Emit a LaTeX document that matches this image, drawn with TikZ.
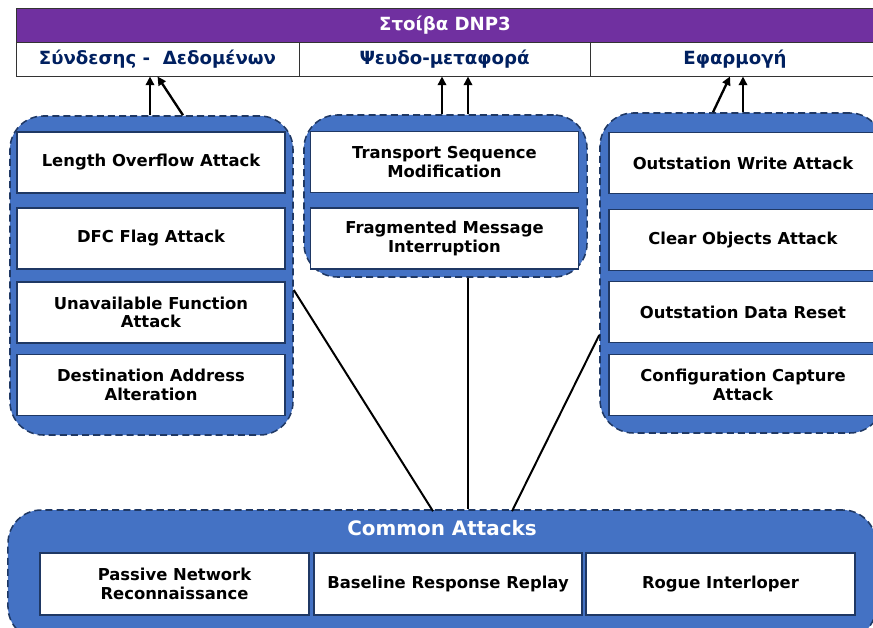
\documentclass[tikz,border=0pt]{standalone}
\usepackage{fontspec}
\setmainfont{DejaVu Sans}
\usepackage{xcolor}
\usetikzlibrary{arrows.meta,calc,positioning}
\definecolor{StackPurple}{HTML}{7030A0}
\definecolor{GroupBlue}{HTML}{4472C4}
\definecolor{EdgeNavy}{HTML}{1F3864}
\definecolor{LayerInk}{HTML}{002060}

\begin{document}
\begin{tikzpicture}[x=0.03cm,y=-0.03cm,every node/.style={font=\bfseries\fontsize{14}{16}\selectfont,align=center,inner sep=0pt},
group/.style={draw=EdgeNavy,fill=GroupBlue,dash pattern=on 6pt off 3.5pt,line width=1.3pt,rounded corners=1cm},
attack/.style={draw=EdgeNavy,fill=white,line width=1.5pt,minimum width=8.04cm,minimum height=1.83cm},
layer/.style={draw=black!80,fill=white,line width=0.8pt,minimum height=1.02cm,text=LayerInk,font=\bfseries\fontsize{15.5}{17}\selectfont},
uparrow/.style={-{Triangle[length=2.6mm,width=2.5mm]},line width=2pt},
link/.style={line width=1.7pt}]
\useasboundingbox (0,0) rectangle (873,628);

\node[fill=StackPurple,draw=black!80,line width=0.8pt,minimum width=25.92cm,minimum height=1.02cm] (stack) at (448,25) {};
\node[text=white,font=\bfseries\fontsize{15.5}{17}\selectfont] (stitle) at (445,25) {Στοίβα DNP3};
\node[layer,minimum width=8.49cm] (lay1) at (157.5,59) {Σύνδεσης -\ \ Δεδομένων};
\node[layer,minimum width=8.73cm] (lay2) at (444.5,59) {Ψευδο-μεταφορά};
\node[layer,minimum width=8.70cm] (lay3) at (735,59) {Εφαρμογή};

\node[group,minimum width=8.49cm,minimum height=9.57cm] (lgrp) at (151.5,275.5) {};
\node[group,minimum width=8.49cm,minimum height=4.86cm] (mgrp) at (445.5,196) {};
\node[group,minimum width=8.49cm,minimum height=9.60cm] (rgrp) at (741.5,273) {};
\node[group,minimum width=26.04cm,minimum height=3.90cm] (cgrp) at (442,575) {};
\node[text=white,font=\bfseries\fontsize{17}{19}\selectfont] (ctitle) at (442,528) {Common Attacks};

\node[attack] (lof) at (151,162.5) {Length Overflow Attack};
\node[attack] (dfc) at (151,238.5) {DFC Flag Attack};
\node[attack] (unf) at (151,312.5) {Unavailable Function\\Attack};
\node[attack] (daa) at (151,385) {Destination Address\\Alteration};
\node[attack] (tsm) at (444.5,162) {Transport Sequence\\Modification};
\node[attack] (fmi) at (444.5,238.5) {Fragmented Message\\Interruption};
\node[attack] (owa) at (743,163) {Outstation Write Attack};
\node[attack] (coa) at (743,240) {Clear Objects Attack};
\node[attack] (odr) at (743,312) {Outstation Data Reset};
\node[attack] (cca) at (743,385) {Configuration Capture\\Attack};
\node[attack,minimum width=8.07cm,minimum height=1.86cm] (pnr) at (174.5,584) {Passive Network\\Reconnaissance};
\node[attack,minimum width=8.04cm,minimum height=1.86cm] (brr) at (448,584) {Baseline Response Replay};
\node[attack,minimum width=8.07cm,minimum height=1.86cm] (rgi) at (720.5,584) {Rogue Interloper};

% groups up to the stack layers
\draw[uparrow] ($(lgrp.north)+(-1.5,0)$) -- ($(lgrp.north |- lay1.south)+(-1.5,0)$);
\draw[uparrow] ($(lgrp.north)+(31.5,0)$) -- (lay1.south);
\draw[uparrow] ($(mgrp.north)+(-3.5,0)$) -- ($(mgrp.north |- lay2.south)+(-3.5,0)$);
\draw[uparrow] ($(mgrp.north)+(22.5,0)$) -- ($(mgrp.north |- lay2.south)+(22.5,0)$);
\draw[uparrow] ($(rgrp.north)+(-28.5,0)$) -- ($(lay3.south)+(-5,0)$);
\draw[uparrow] ($(rgrp.north)+(1.5,0)$) -- ($(rgrp.north |- lay3.south)+(1.5,0)$);

% common attacks to every group
\draw[link] ($(cgrp.north)+(-9,2)$) -- ($(lgrp.east)+(0,14.5)$);
\draw[link] ($(cgrp.north)+(26,0)$) -- ($(cgrp.north |- mgrp.south)+(26,0)$);
\draw[link] ($(cgrp.north)+(70,2)$) -- ($(rgrp.west)+(0,62)$);
\end{tikzpicture}
\end{document}
